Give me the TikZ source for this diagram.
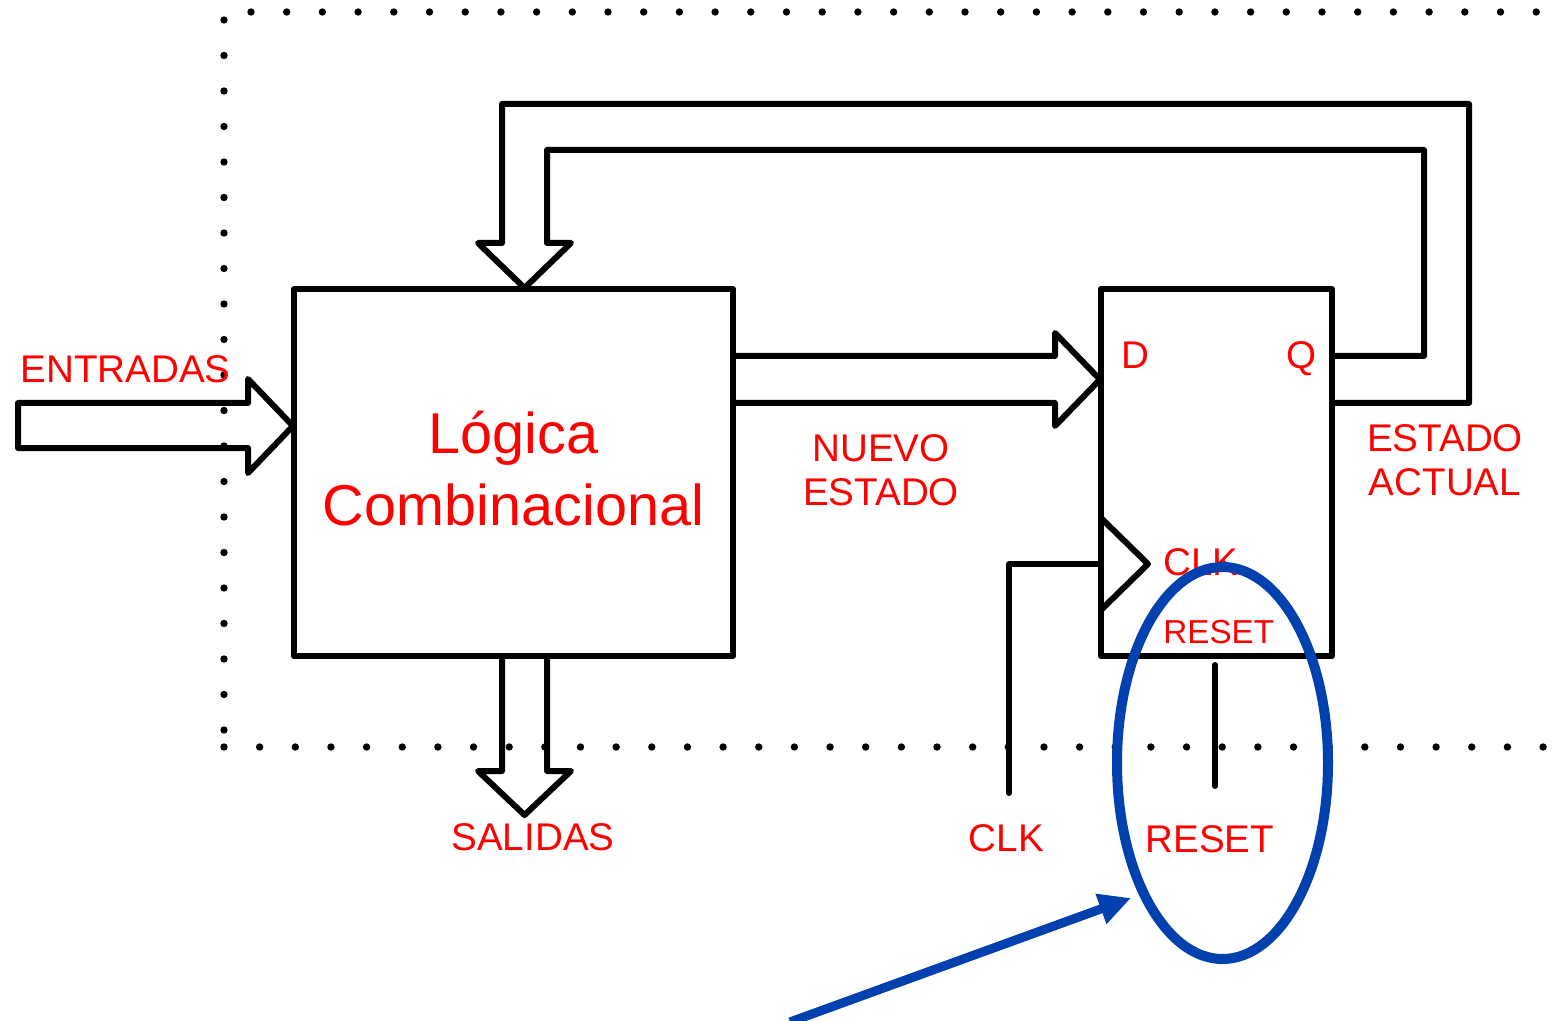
\documentclass[tikz,border=0pt]{standalone}
\usepackage{fontspec}
\setmainfont{Liberation Sans}
\usetikzlibrary{arrows.meta,shapes.geometric}
\definecolor{lblred}{RGB}{255,0,0}
\definecolor{markblue}{RGB}{0,64,175}
\begin{document}
\begin{tikzpicture}[x=0.5pt,y=-0.5pt,
  wire/.style={line width=3pt,line join=round,line cap=round,black},
  blk/.style={draw=black,line width=3pt,line join=round,inner sep=0pt,rectangle},
  lbl/.style={text=lblred,inner sep=0pt,font=\fontsize{19.3pt}{22pt}\selectfont},
  small/.style={text=lblred,inner sep=0pt,font=\fontsize{16.6pt}{19pt}\selectfont},
  big/.style={text=lblred,inner sep=0pt,font=\fontsize{28.8pt}{36pt}\selectfont},
  dotmark/.style={fill=black}]
\useasboundingbox (0,0) rectangle (1552,1021);

% blocks
\node[blk,minimum width=219.5pt,minimum height=183.5pt] (logic) at (513.5,472.5) {};
\node[blk,minimum width=115.5pt,minimum height=183.5pt] (ff) at (1216.5,472.5) {};

% hollow arrows
\draw[wire] (18,403) -- (248,403) -- (248,379) -- (293,426) -- (248,473) -- (248,448) -- (18,448) -- cycle;
\draw[wire] (733,356) -- (1055,356) -- (1055,333) -- (1100,379.5) -- (1055,426) -- (1055,403) -- (733,403);
\draw[wire] (1332,403) -- (1469,403) -- (1469,104) -- (502,104) -- (502,243) -- (478,243) -- (524.5,288) -- (571,243) -- (547,243) -- (547,150) -- (1424,150) -- (1424,356) -- (1332,356);
\draw[wire] (502,656) -- (502,771) -- (478,771) -- (524.5,815) -- (571,771) -- (547,771) -- (547,656);

% clock input
\coordinate (clkin) at (1101,564);
\coordinate (clkend) at (1009,793);
\draw[wire] (1101,518) -- (1148,564) -- (1101,610);
\draw[wire] (clkin) -- (1009,564) -- (clkend);
% reset input
\coordinate (rsttop) at (1215,665);
\coordinate (rstend) at (1215,786);
\draw[wire] (rsttop) -- (rstend);

% dotted frame
\foreach \i in {0,...,36} \fill[dotmark] (251+35.7*\i,12) circle[radius=3.7];
\foreach \i in {0,...,20} \fill[dotmark] (224,20+35.5*\i) circle[radius=3.7];
\foreach \i in {0,...,37} \fill[dotmark] (224+35.65*\i,747) circle[radius=3.7];

% labels
\node[lbl,anchor=base west] (entradas) at (20,383) {ENTRADAS};
\node[big,anchor=base,align=center] (logictxt) at (513.5,525) {Lógica\\Combinacional};
\node[lbl,anchor=base,align=center] (nuevo) at (881,505) {NUEVO\\ESTADO};
\node[lbl,anchor=base,align=center] (actual) at (1445,495) {ESTADO\\ACTUAL};
\node[lbl,anchor=base west] (dlbl) at (1121,369) {D};
\node[lbl,anchor=base west] (qlbl) at (1286,369) {Q};
\node[lbl,anchor=base west] (clkin lbl) at (1163,575) {CLK};
\node[small,anchor=base west] (rstin lbl) at (1163,643) {RESET};
\node[lbl,anchor=base] (salidas) at (533,850) {SALIDAS};
\node[lbl,anchor=base] (clklbl) at (1006.5,851.7) {CLK};
\node[lbl,anchor=base west] (rstlbl) at (1145,852) {RESET};

% highlight
\node[draw=markblue,line width=5pt,ellipse,inner sep=0pt,minimum width=105.5pt,minimum height=196pt] (hl) at (1222.5,763) {};
\coordinate (ptr) at (790,1022);
\draw[draw=markblue,line width=4.5pt,-{Triangle[length=16pt,width=15pt]}] (ptr) -- (1131,898);
\end{tikzpicture}
\end{document}
